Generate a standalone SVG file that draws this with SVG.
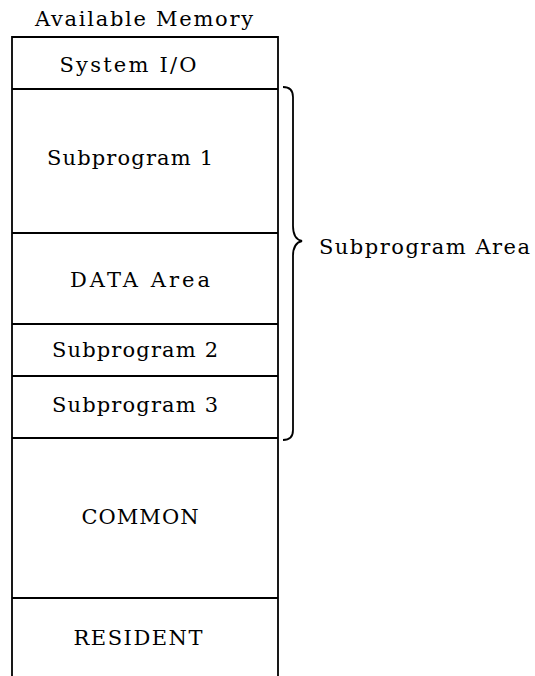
<svg xmlns="http://www.w3.org/2000/svg" width="535" height="676" viewBox="0 0 535 676">
<style>
  .ln { stroke: #000; stroke-width: 1.8; fill: none; }
  .lbl { font-family: "DejaVu Serif", "Liberation Serif", serif; font-size: 21px; fill: #000; text-anchor: middle; }
  .lbl2 { font-family: "DejaVu Serif", "Liberation Serif", serif; font-size: 21px; fill: #000; }
</style>
<rect width="535" height="676" fill="#fff"/>
<text id="title" class="lbl" x="144" y="26" textLength="218" lengthAdjust="spacing">Available Memory</text>
<g id="memory-frame">
  <path class="ln" d="M12,676 L12,37 L278,37 L278,676"/>
</g>
<g id="connectors">
  <line class="ln" x1="12" y1="89" x2="278" y2="89"/>
  <line class="ln" x1="12" y1="233" x2="278" y2="233"/>
  <line class="ln" x1="12" y1="324" x2="278" y2="324"/>
  <line class="ln" x1="12" y1="376" x2="278" y2="376"/>
  <line class="ln" x1="12" y1="438" x2="278" y2="438"/>
  <line class="ln" x1="12" y1="598" x2="278" y2="598"/>
</g>
<g id="system-io">
  <text class="lbl" x="128" y="72" textLength="137" lengthAdjust="spacing">System I/O</text>
</g>
<g id="subprogram-1">
  <text class="lbl" x="130" y="165" textLength="166" lengthAdjust="spacing">Subprogram 1</text>
</g>
<g id="data-area">
  <text class="lbl" x="140" y="287" textLength="140" lengthAdjust="spacing">DATA Area</text>
</g>
<g id="subprogram-2">
  <text class="lbl" x="135" y="357" textLength="166" lengthAdjust="spacing">Subprogram 2</text>
</g>
<g id="subprogram-3">
  <text class="lbl" x="135" y="412" textLength="166" lengthAdjust="spacing">Subprogram 3</text>
</g>
<g id="common">
  <text class="lbl" x="140" y="524" textLength="117" lengthAdjust="spacing">COMMON</text>
</g>
<g id="resident">
  <text class="lbl" x="138" y="645" textLength="129" lengthAdjust="spacing">RESIDENT</text>
</g>
<g id="subprogram-area">
  <path class="ln" d="M283,87 Q293,87 293,97 L293,226 Q293,239 302,241 Q293,243 293,256 L293,430 Q293,440 283,440"/>
  <text class="lbl2" x="319" y="254" textLength="211" lengthAdjust="spacing">Subprogram Area</text>
</g>
</svg>
